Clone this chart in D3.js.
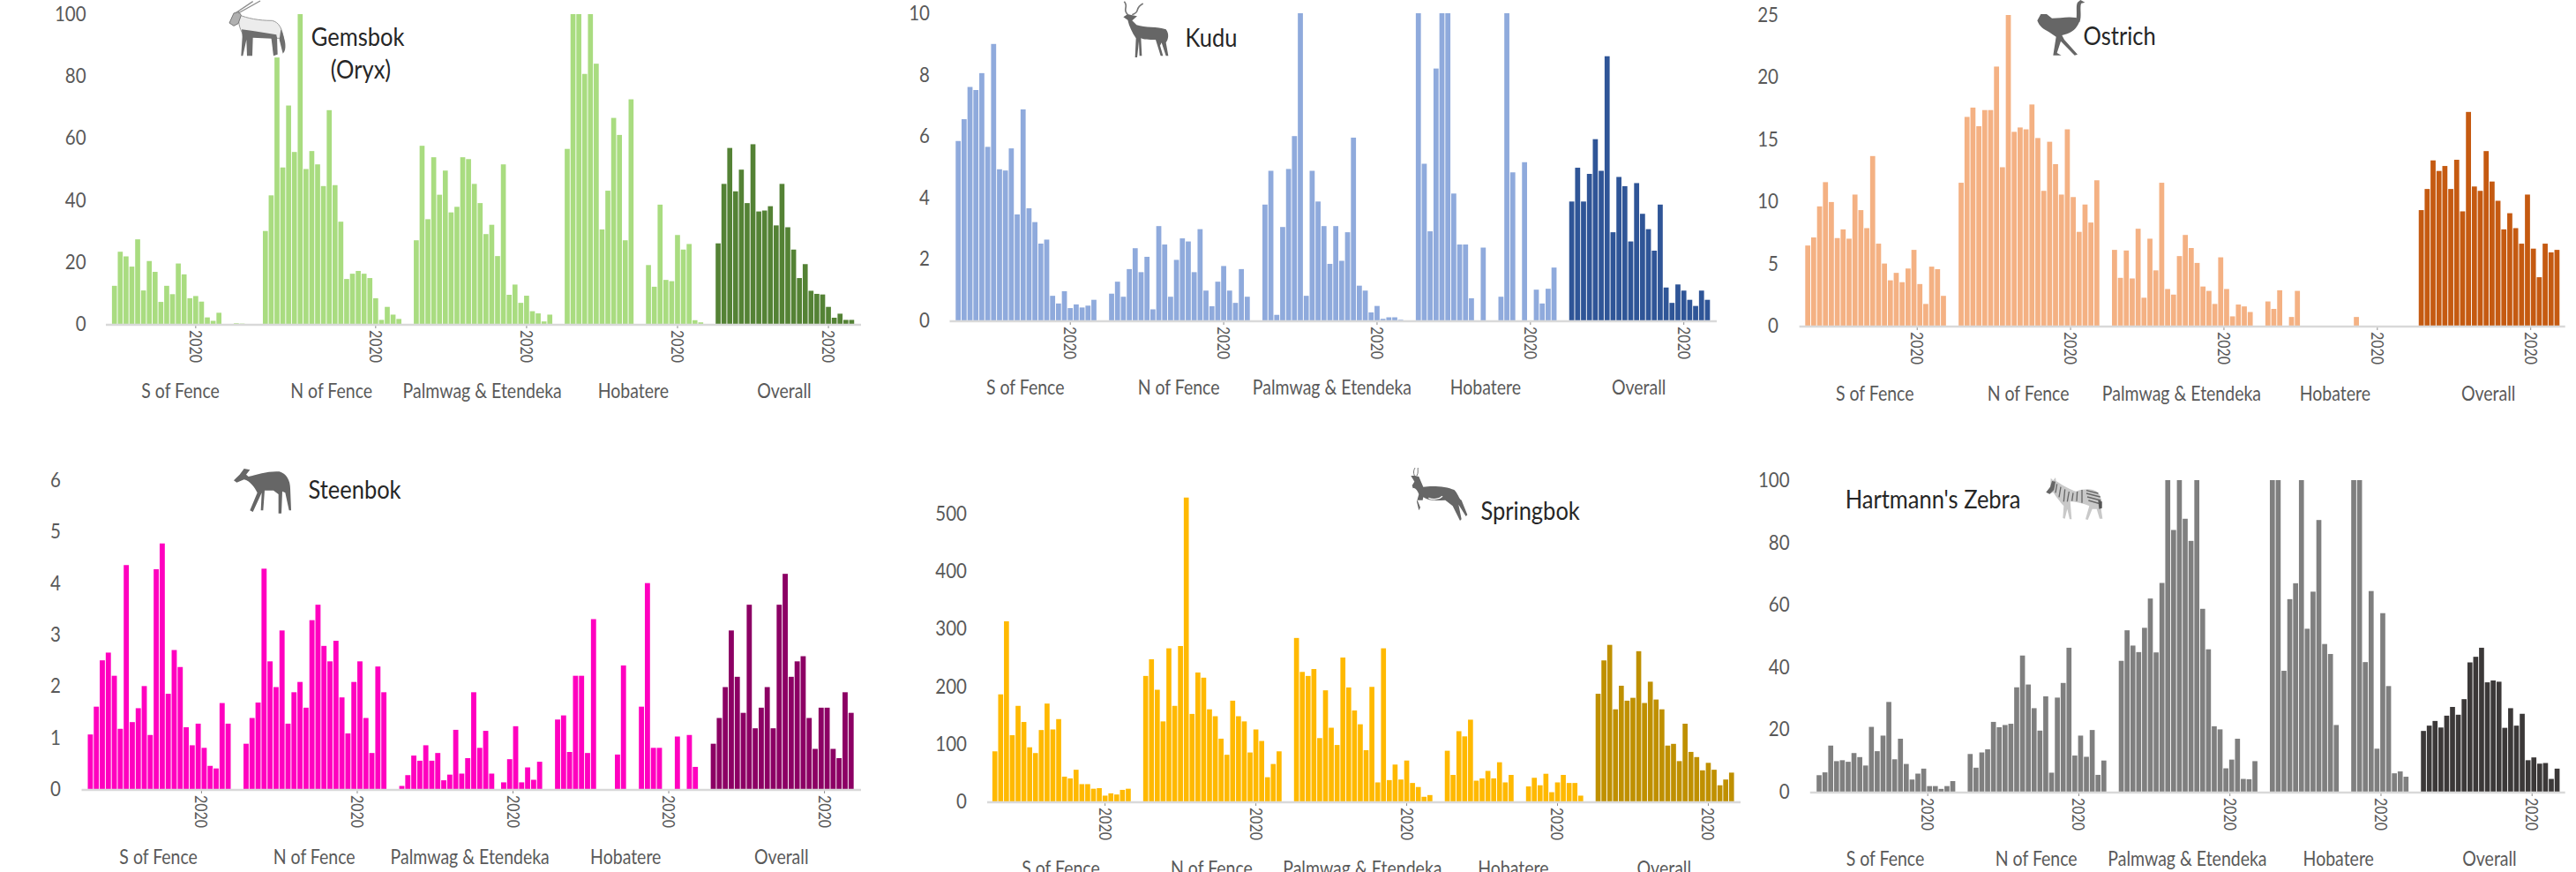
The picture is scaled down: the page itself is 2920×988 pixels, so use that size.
<!DOCTYPE html>
<html><head><meta charset="utf-8">
<script src="https://cdnjs.cloudflare.com/ajax/libs/d3/7.8.5/d3.min.js"></script>
<style>html,body{margin:0;padding:0;background:#fff;overflow:hidden}svg{display:block;font-family:Lato,sans-serif}</style>
</head><body><svg id="c" width="2920" height="988"></svg>
<script>
const groupNames = ["S of Fence","N of Fence","Palmwag & Etendeka","Hobatere","Overall"];
const tickLabel = "2020";

const gemsbok = [
 [12.3,23.3,21.8,18.5,27.3,10.8,20.3,16.8,7.1,12.3,9.6,19.5,16,8.3,9,7.2,2.1,1,3.6,0,0,0.2,0.1,0],
 [30,41.5,86,50.5,70.5,55.5,100,50,55.8,51.5,44.5,69,44.8,33,14.5,16.2,17.1,16.2,14.8,8.3,1.3,5.5,3,1.6],
 [27,57.5,33.8,53.8,41.7,49.5,36,37.8,53.8,53.2,45.2,39,29,32,21.9,51.5,9.4,12.7,6.8,9.1,4.1,3.4,0.8,3],
 [56.5,100,100,80.7,100,84,30.5,43,66.5,61,27,72.5,0,0,19,12,38.5,14.2,13.8,28.7,24,25.8,1.2,0.5],
 [26,45.2,56.8,42.8,49.8,39,58,36.3,36.6,38,31.8,45.2,31.2,24,14.8,19.3,10.7,9.7,9.5,5.5,2,3.3,1.3,1.3]];
const kudu = [
 [5.84,6.55,7.6,7.5,8.05,5.65,9,4.92,4.88,5.6,3.45,6.87,3.65,3.2,2.5,2.63,0.8,0.55,0.95,0.4,0.52,0.42,0.48,0.67],
 [0.87,1.26,0.77,1.67,2.35,1.57,2.07,0.36,3.07,2.47,0.77,1.97,2.67,2.57,1.57,2.97,0.97,0.46,1.26,1.77,0.97,0.57,1.67,0.77],
 [3.77,4.87,0.18,3.04,4.93,6,10,0.8,4.87,3.87,3.07,1.84,3.07,1.94,2.87,5.95,1.13,0.97,0.26,0.47,0.05,0.1,0.1,0.02],
 [10,5.1,2.9,8.2,10,10,4.13,2.47,2.47,0.72,0,2.37,0,0,0.77,10,4.82,0,5.15,0,1,0.55,1.03,1.72],
 [3.87,4.97,3.87,4.77,5.9,4.87,8.6,2.87,4.67,4.37,2.57,4.47,3.47,2.97,2.27,3.77,1.07,0.57,1.17,0.97,0.67,0.47,0.97,0.67]];
const ostrich = [
 [6.45,7.1,9.6,11.55,9.95,7.05,7.75,7,10.55,9.3,7.85,13.65,6.6,5,3.65,4.25,3.5,4.6,6.1,3.35,1.75,4.75,4.55,2.4],
 [11.5,16.8,17.55,16.05,17.35,17.35,20.85,12.75,25,15.6,15.95,15.8,17.8,15.1,10.85,14.8,13,10.55,15.8,10.35,7.55,9.75,8.3,11.7],
 [6.1,3.85,6.05,3.8,7.8,2.25,7,4.45,11.5,2.95,2.5,5.6,7.3,6.25,5.05,3.15,2.8,1.75,5.5,2.95,0.75,1.7,1.55,1.1],
 [1.95,1.35,2.85,0,0.7,2.8,0,0,0,0,0,0,0,0,0,0.7,0,0,0,0,0,0,0,0],
 [9.3,11,13.3,12.45,12.85,11,13.35,9.2,17.2,11.2,10.85,14.05,11.6,10.05,7.75,9.05,7.85,6.6,10.55,6.2,3.9,6.6,5.9,6.1]];
const steenbok = [
 [1.06,1.6,2.5,2.65,2.2,1.17,4.35,1.3,1.57,2,1.05,4.27,4.77,1.85,2.7,2.37,1.2,0.85,1.27,0.8,0.45,0.4,1.67,1.27],
 [0.88,1.38,1.68,4.28,2.48,1.98,3.08,1.27,1.88,2.08,1.58,3.28,3.58,2.78,2.48,2.88,1.78,1.08,2.08,2.48,1.38,0.7,2.38,1.88],
 [0.06,0.27,0.65,0.55,0.85,0.55,0.7,0.17,0.28,1.15,0.3,0.6,1.88,0.8,1.13,0.3,0,0.13,0.58,1.22,0.13,0.42,0.18,0.53],
 [1.35,1.43,0.72,2.2,2.2,0.7,3.3,0,0,0,0.67,2.4,0,0,1.6,4,0.8,0.8,0,0,1.02,0,1.05,0.43],
 [0.88,1.38,1.98,3.08,2.18,1.48,3.58,1.18,1.58,1.98,1.18,3.58,4.18,2.18,2.48,2.58,1.38,0.78,1.58,1.58,0.78,0.6,1.88,1.48]];
const springbok = [
 [87,186,313,115,166,138,94,84,124,170,125,143,43,40,55,30,30,22,23,10,14,12,20,22],
 [218,247,194,139,266,166,270,528,152,224,215,160,148,109,81,175,148,139,85,125,105,42,65,87],
 [284,225,218,230,110,193,128,98,250,198,158,134,89,199,33,266,37,64,38,71,32,25,8,11],
 [88,46,122,113,142,36,40,53,40,68,33,46,0,0,26,41,28,48,16,33,46,32,32,10],
 [187,245,272,160,201,175,180,261,171,208,177,160,97,100,70,135,86,77,54,67,55,28,38,50]];
const zebra = [
 [5.3,6.2,14.8,9.8,10.1,9.6,12.4,11.1,8.4,20.8,13,18,28.8,10.4,17,8.9,3.9,5.8,7.4,1.8,1.8,0.9,1.8,3.4],
 [12.1,7.7,12.6,13.6,22.4,20.7,21.4,21.8,33.5,43.7,34.4,26.8,19.6,30.6,6.1,30.2,34.9,46.2,11.6,18,11.2,19.8,5.4,10],
 [42,51.8,46.9,44.8,52.6,62,44.7,67,100,84,100,87.6,80.5,100,58.7,45.7,21,20,7.5,10.3,17,4.1,4,9.8],
 [100,100,38.8,61.8,66.9,100,52.3,64.2,87.2,47.4,44.2,21.4,0,0,100,100,41.6,64.4,13.8,57.3,33.9,5.9,6.5,4.8],
 [19.5,21.2,22.7,20.6,24.4,27.2,24.7,29.7,41.5,43.3,46.2,35.1,35.7,35.3,20.5,26.8,21.2,25,10.1,11,9,9.2,4.1,7.4]];

const gemsbokTicks = [0,20,40,60,80,100], kuduTicks = [0,2,4,6,8,10], ostrichTicks = [0,5,10,15,20,25],
      steenbokTicks = [0,1,2,3,4,5,6], springbokTicks = [0,100,200,300,400,500], zebraTicks = [0,20,40,60,80,100];

// Decorative silhouettes: paths are in 3x units of a small box placed at `at`.
const ICONS = {
 oryx:{at:[250,0],shapes:[
  {d:"M62 50 C90 62 130 70 175 70 C200 75 210 100 214 130 L190 130 L150 125 L110 125 L85 130 C65 100 60 85 62 50Z",fill:"#ececec",stroke:"#9a9a9a",sw:3},
  {d:"M30 78 L45 45 L62 40 L70 52 L60 80 L45 88 Z",fill:"#b0b0b0",stroke:"#777",sw:3},
  {d:"M72 100 L110 105 L190 118 L192 132 L110 128 L108 190 L90 190 L88 135 L76 190 L70 190 L74 125 Z",fill:"#6e6e6e"},
  {d:"M172 125 L192 125 L194 185 L180 190 Z",fill:"#6e6e6e"},
  {d:"M205 100 C222 135 226 170 212 182 L200 135 Z",fill:"#6e6e6e"},
  {d:"M50 45 L110 5",stroke:"#8c8c8c",sw:4,fill:"none"},
  {d:"M60 45 L135 3",stroke:"#8c8c8c",sw:4,fill:"none"}]},
 kudu:{at:[1265,0],shapes:[
  {d:"M25 58 L40 48 L55 52 L72 55 L55 70 L70 85 C100 95 140 90 170 100 C182 115 178 135 170 145 L178 190 L170 190 L155 145 L150 155 L160 190 L152 190 L135 135 C110 135 95 135 85 130 L88 190 L80 190 L78 140 L72 195 L65 195 L68 130 C55 110 45 90 40 68 Z",fill:"#666"},
  {d:"M40 50 C20 30 45 25 28 5",stroke:"#777",sw:5,fill:"none"},
  {d:"M55 50 C85 40 60 30 92 12",stroke:"#777",sw:5,fill:"none"}]},
 ostrich:{at:[2300,0],shapes:[
  {d:"M160 70 C165 45 158 20 165 8 L175 0 L190 8 L177 12 C172 30 180 55 172 75 Z",fill:"#666"},
  {d:"M28 70 L40 48 L60 48 L78 62 C105 62 130 55 160 60 L172 72 C165 90 155 105 130 115 L112 120 L120 135 L165 185 L155 188 L108 140 L95 180 L110 188 L82 188 L92 125 L70 110 C50 100 35 90 28 70Z",fill:"#666"}]},
 steenbok:{at:[255,525],shapes:[
  {d:"M30 58 L50 38 L65 18 L85 22 L72 38 L80 45 C110 38 150 25 185 28 C210 35 222 60 222 85 L225 160 L218 160 L205 100 L195 95 L192 170 L182 170 L182 105 L165 92 L135 92 L130 160 L122 160 L125 100 L95 165 L85 160 L110 100 C100 80 85 60 65 55 L40 65 Z",fill:"#666"}]},
 springbok:{at:[1590,525],shapes:[
  {d:"M28 42 L42 42 L55 45 L70 80 C100 75 150 78 175 90 C190 105 190 120 200 125 L220 175 L215 180 L190 140 L200 190 L195 195 L170 145 L145 125 C120 125 90 130 70 115 L68 125 L50 125 L60 150 L55 160 L48 130 L55 105 C50 90 40 80 35 85 L32 75 L40 62 Z",fill:"#666"},
  {d:"M88 118 C105 125 125 122 135 112",stroke:"#fff",sw:4,fill:"none"},
  {d:"M40 42 C35 30 38 22 42 15",stroke:"#777",sw:3,fill:"none"},
  {d:"M48 42 C55 30 50 22 52 15",stroke:"#777",sw:3,fill:"none"}]},
 zebra:{at:[2310,535],shapes:[
  {d:"M28 68 L42 50 L44 20 L52 28 L60 18 L62 30 C85 45 110 60 130 65 C160 55 190 55 205 70 C218 85 218 110 215 125 L220 158 L210 158 L200 125 L185 125 L170 162 L162 160 L175 115 C150 105 125 100 110 100 L115 160 L108 160 L100 125 L92 158 L85 156 L88 115 C75 100 60 80 52 68 L40 74 Z",fill:"#c9c9c9"},
  {d:"M28 68 L42 50 L48 30 L60 32 L55 60 L40 74 Z",fill:"#666"},
  {d:"M65 40 L60 70 M78 50 L72 85 M92 58 L88 100 M106 66 L100 100 M120 70 L116 98 M134 66 L132 98 M150 60 L150 104 M165 62 L205 72 M165 72 L212 84 M168 84 L214 96 M172 96 L214 108",stroke:"#666",sw:4,fill:"none"},
  {d:"M205 95 L218 100 L218 122 L208 125 Z",fill:"#555"}]}
};

const panels = [
 {name:"gemsbok",values:gemsbok,ticks:gemsbokTicks,max:100,x0:126.9,step:6.58,ax0:120,ax1:976,labelX:97.6,y0:367,y1:16,fill:"#a9dc80",dark:"#548235",tickSlots:[14,19,19,19,19],tickDx:0,catDy:76,
  titles:[["Gemsbok",405.6,42],["(Oryx)",409,79]],icon:"oryx"},
 {name:"kudu",values:kudu,ticks:kuduTicks,max:10,x0:1083.3,step:6.687,ax0:1076.5,ax1:1946,labelX:1054,y0:363,y1:15,fill:"#8faadc",dark:"#2f5597",tickSlots:[19,19,19,19,19],tickDx:0,catDy:76,
  titles:[["Kudu",1373,43]],icon:"kudu"},
 {name:"ostrich",values:ostrich,ticks:ostrichTicks,max:25,x0:2046.3,step:6.687,ax0:2039.6,ax1:2907.7,labelX:2016,y0:369,y1:17,fill:"#f4b183",dark:"#c55a11",tickSlots:[19,19,19,19,19],tickDx:-3,catDy:77,
  titles:[["Ostrich",2402.6,41]],icon:"ostrich"},
 {name:"steenbok",values:steenbok,ticks:steenbokTicks,max:6,x0:99.5,step:6.79,ax0:92.5,ax1:976,labelX:69,y0:894,y1:544,fill:"#ff00bf",dark:"#8c0064",tickSlots:[19,19,19,19,19],tickDx:-3,catDy:77,
  titles:[["Steenbok",402,555]],icon:"steenbok"},
 {name:"springbok",values:springbok,ticks:springbokTicks,max:500,x0:1124.9,step:6.575,ax0:1119,ax1:1973,labelX:1096,y0:908,y1:582,fill:"#ffb900",dark:"#bf9000",tickSlots:[19,19,19,19,19],tickDx:0,catDy:76,
  titles:[["Springbok",1734.6,579]],icon:"springbok"},
 {name:"zebra",values:zebra,ticks:zebraTicks,max:100,x0:2059.2,step:6.587,ax0:2051.8,ax1:2907.7,labelX:2028.6,y0:897,y1:544,fill:"#7f7f7f",dark:"#3b3838",tickSlots:[19,19,19,19,19],tickDx:-2,catDy:76,
  titles:[["Hartmann's Zebra",2191,566]],icon:"zebra"}
];

const SLOTS_PER_GROUP = 26;
const TALL = 1.14;   // the reference's lettering is taller than it is wide
const svg = d3.select("#c");

panels.forEach(p => {
  const n = p.values.length * SLOTS_PER_GROUP;
  const pad = 0.14;
  const x = d3.scaleBand().domain(d3.range(n)).range([p.x0 - p.step*pad/2, p.x0 - p.step*pad/2 + n*p.step]).paddingInner(pad).paddingOuter(pad/2);
  const y = d3.scaleLinear().domain([0,p.max]).range([p.y0,p.y1]);
  const g = svg.append("g").attr("class",p.name);

  p.values.forEach((vals,gi) => {
    g.append("g").selectAll("rect").data(vals).join("rect")
      .attr("x",(d,i)=>x(gi*SLOTS_PER_GROUP+i))
      .attr("width",x.bandwidth())
      .attr("y",d=>y(d))
      .attr("height",d=>p.y0-y(d))
      .attr("fill",gi===4?p.dark:p.fill);
  });

  // y axis labels
  const ya = g.append("g").attr("transform",`translate(${p.labelX},0)`)
    .call(d3.axisLeft(y).tickValues(p.ticks).tickFormat(d3.format("d")).tickSize(0).tickPadding(0));
  ya.select(".domain").remove();
  ya.selectAll("text").attr("fill","#595959").attr("transform",`scale(1,${TALL})`).style("font-family","Lato,sans-serif").style("font-size","20.5px");

  // x axis
  const tickVals = p.tickSlots.map((s,gi)=>gi*SLOTS_PER_GROUP+s);
  const xa = g.append("g").attr("transform",`translate(${p.tickDx},${p.y0})`)
    .call(d3.axisBottom(x).tickValues(tickVals).tickFormat(()=>tickLabel).tickSize(5));
  xa.select(".domain").remove();
  xa.selectAll("line").attr("stroke","#8c8c8c").attr("stroke-width",1);
  xa.selectAll("text").attr("fill","#595959").style("font-family","Lato,sans-serif").style("font-size","16px")
    .attr("transform","rotate(90) scale(1,1.25)").attr("x",7).attr("y",0).attr("dy","0.35em").attr("text-anchor","start");
  g.append("line").attr("x1",p.ax0).attr("x2",p.ax1).attr("y1",p.y0+1).attr("y2",p.y0+1).attr("stroke","#d9d9d9").attr("stroke-width",2.5);

  // group labels
  g.append("g").selectAll("text").data(groupNames).join("text")
    .attr("transform",(d,i)=>`translate(${x(i*SLOTS_PER_GROUP+12)-0.2*p.step},${p.y0+p.catDy}) scale(1,${TALL})`)
    .attr("dy","0.35em").attr("text-anchor","middle")
    .attr("fill","#595959").style("font-size","19.5px").text(d=>d);

  // titles
  g.append("g").selectAll("text").data(p.titles).join("text")
    .attr("transform",d=>`translate(${d[1]},${d[2]}) scale(1,${TALL})`).attr("dy","0.35em").attr("text-anchor","middle")
    .attr("fill","#262626").style("font-size","25.5px").text(d=>d[0]);

  // icon
  const ic = ICONS[p.icon];
  const ig = g.append("g").attr("transform",`translate(${ic.at[0]},${ic.at[1]}) scale(${1/3})`);
  ic.shapes.forEach(s=>ig.append("path").attr("d",s.d).attr("fill",s.fill).attr("stroke",s.stroke||"none").attr("stroke-width",s.sw||0));
});
</script></body></html>
